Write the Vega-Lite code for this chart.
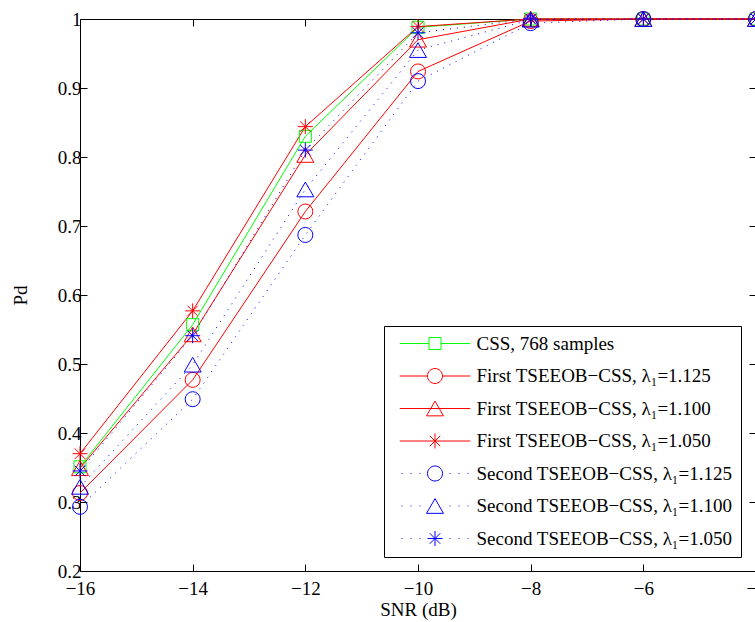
{
  "$schema": "https://vega.github.io/schema/vega-lite/v6.json",
  "width": 676,
  "height": 552,
  "autosize": "none",
  "padding": {"left": 80, "top": 19, "right": -1, "bottom": 51},
  "background": "white",
  "config": {
    "view": {"stroke": null},
    "font": "Liberation Serif",
    "axis": {
      "grid": false,
      "domainColor": "black",
      "domainWidth": 1,
      "tickColor": "black",
      "tickWidth": 1,
      "tickSize": -7,
      "labelColor": "black",
      "labelFont": "Liberation Serif",
      "labelFontSize": 19,
      "titleFont": "Liberation Serif",
      "titleFontSize": 19,
      "titleFontWeight": "normal",
      "titleColor": "black"
    }
  },
  "datasets": {
    "pd": [
      {"series": "CSS, 768 samples", "snr": -16, "pd": 0.351},
      {"series": "CSS, 768 samples", "snr": -14, "pd": 0.557},
      {"series": "CSS, 768 samples", "snr": -12, "pd": 0.830},
      {"series": "CSS, 768 samples", "snr": -10, "pd": 0.988},
      {"series": "CSS, 768 samples", "snr": -8, "pd": 1.0},
      {"series": "CSS, 768 samples", "snr": -6, "pd": 1.0},
      {"series": "CSS, 768 samples", "snr": -4, "pd": 1.0},
      {"series": "First TSEEOB−CSS, λ₁=1.125", "snr": -16, "pd": 0.313},
      {"series": "First TSEEOB−CSS, λ₁=1.125", "snr": -14, "pd": 0.477},
      {"series": "First TSEEOB−CSS, λ₁=1.125", "snr": -12, "pd": 0.721},
      {"series": "First TSEEOB−CSS, λ₁=1.125", "snr": -10, "pd": 0.924},
      {"series": "First TSEEOB−CSS, λ₁=1.125", "snr": -8, "pd": 0.997},
      {"series": "First TSEEOB−CSS, λ₁=1.125", "snr": -6, "pd": 1.0},
      {"series": "First TSEEOB−CSS, λ₁=1.125", "snr": -4, "pd": 1.0},
      {"series": "First TSEEOB−CSS, λ₁=1.100", "snr": -16, "pd": 0.349},
      {"series": "First TSEEOB−CSS, λ₁=1.100", "snr": -14, "pd": 0.543},
      {"series": "First TSEEOB−CSS, λ₁=1.100", "snr": -12, "pd": 0.803},
      {"series": "First TSEEOB−CSS, λ₁=1.100", "snr": -10, "pd": 0.970},
      {"series": "First TSEEOB−CSS, λ₁=1.100", "snr": -8, "pd": 1.0},
      {"series": "First TSEEOB−CSS, λ₁=1.100", "snr": -6, "pd": 1.0},
      {"series": "First TSEEOB−CSS, λ₁=1.100", "snr": -4, "pd": 1.0},
      {"series": "First TSEEOB−CSS, λ₁=1.050", "snr": -16, "pd": 0.370},
      {"series": "First TSEEOB−CSS, λ₁=1.050", "snr": -14, "pd": 0.577},
      {"series": "First TSEEOB−CSS, λ₁=1.050", "snr": -12, "pd": 0.844},
      {"series": "First TSEEOB−CSS, λ₁=1.050", "snr": -10, "pd": 0.989},
      {"series": "First TSEEOB−CSS, λ₁=1.050", "snr": -8, "pd": 1.0},
      {"series": "First TSEEOB−CSS, λ₁=1.050", "snr": -6, "pd": 1.0},
      {"series": "First TSEEOB−CSS, λ₁=1.050", "snr": -4, "pd": 1.0},
      {"series": "Second TSEEOB−CSS, λ₁=1.125", "snr": -16, "pd": 0.293},
      {"series": "Second TSEEOB−CSS, λ₁=1.125", "snr": -14, "pd": 0.449},
      {"series": "Second TSEEOB−CSS, λ₁=1.125", "snr": -12, "pd": 0.687},
      {"series": "Second TSEEOB−CSS, λ₁=1.125", "snr": -10, "pd": 0.910},
      {"series": "Second TSEEOB−CSS, λ₁=1.125", "snr": -8, "pd": 0.994},
      {"series": "Second TSEEOB−CSS, λ₁=1.125", "snr": -6, "pd": 1.0},
      {"series": "Second TSEEOB−CSS, λ₁=1.125", "snr": -4, "pd": 1.0},
      {"series": "Second TSEEOB−CSS, λ₁=1.100", "snr": -16, "pd": 0.322},
      {"series": "Second TSEEOB−CSS, λ₁=1.100", "snr": -14, "pd": 0.499},
      {"series": "Second TSEEOB−CSS, λ₁=1.100", "snr": -12, "pd": 0.753},
      {"series": "Second TSEEOB−CSS, λ₁=1.100", "snr": -10, "pd": 0.955},
      {"series": "Second TSEEOB−CSS, λ₁=1.100", "snr": -8, "pd": 0.999},
      {"series": "Second TSEEOB−CSS, λ₁=1.100", "snr": -6, "pd": 1.0},
      {"series": "Second TSEEOB−CSS, λ₁=1.100", "snr": -4, "pd": 1.0},
      {"series": "Second TSEEOB−CSS, λ₁=1.050", "snr": -16, "pd": 0.345},
      {"series": "Second TSEEOB−CSS, λ₁=1.050", "snr": -14, "pd": 0.541},
      {"series": "Second TSEEOB−CSS, λ₁=1.050", "snr": -12, "pd": 0.810},
      {"series": "Second TSEEOB−CSS, λ₁=1.050", "snr": -10, "pd": 0.980},
      {"series": "Second TSEEOB−CSS, λ₁=1.050", "snr": -8, "pd": 1.0},
      {"series": "Second TSEEOB−CSS, λ₁=1.050", "snr": -6, "pd": 1.0},
      {"series": "Second TSEEOB−CSS, λ₁=1.050", "snr": -4, "pd": 1.0}
    ]
  },
  "data": {"name": "pd"},
  "layer": [
    {
      "encoding": {
        "x": {
          "field": "snr", "type": "quantitative",
          "scale": {"domain": [-16, -4], "nice": false, "zero": false},
          "axis": {"orient": "bottom", "title": "SNR (dB)", "values": [-16, -14, -12, -10, -8, -6, -4], "labelPadding": 15, "titlePadding": 2, "labelFlush": false}
        },
        "y": {
          "field": "pd", "type": "quantitative",
          "scale": {"domain": [0.2, 1], "nice": false, "zero": false},
          "axis": {"orient": "left", "title": "Pd", "values": [0.2, 0.3, 0.4, 0.5, 0.6, 0.7, 0.8, 0.9, 1.0], "labelExpr": "datum.value == 1 ? '1' : format(datum.value, '.1f')", "labelPadding": 6, "titlePadding": 27, "labelFlush": false}
        }
      },
      "layer": [
        {
          "transform": [{"filter": {"field": "series", "oneOf": ["CSS, 768 samples"]}}],
          "mark": {"type": "line", "strokeWidth": 1, "color": "#00ff00"},
          "encoding": {"detail": {"field": "series", "type": "nominal"}}
        },
        {
          "transform": [{"filter": {"field": "series", "oneOf": ["First TSEEOB−CSS, λ₁=1.125", "First TSEEOB−CSS, λ₁=1.100", "First TSEEOB−CSS, λ₁=1.050"]}}],
          "mark": {"type": "line", "strokeWidth": 1, "color": "#ff0000"},
          "encoding": {"detail": {"field": "series", "type": "nominal"}}
        },
        {
          "transform": [{"filter": {"field": "series", "oneOf": ["Second TSEEOB−CSS, λ₁=1.125", "Second TSEEOB−CSS, λ₁=1.100", "Second TSEEOB−CSS, λ₁=1.050"]}}],
          "mark": {"type": "line", "strokeWidth": 1, "color": "#0000ff", "strokeDash": [1, 6]},
          "encoding": {"detail": {"field": "series", "type": "nominal"}}
        },
        {
          "transform": [{"filter": {"field": "series", "oneOf": ["CSS, 768 samples"]}}],
          "mark": {"type": "point", "shape": "square", "size": 144, "filled": false, "strokeWidth": 1, "color": "#00ff00", "opacity": 1}
        },
        {
          "transform": [{"filter": {"field": "series", "oneOf": ["First TSEEOB−CSS, λ₁=1.125"]}}],
          "mark": {"type": "point", "shape": "circle", "size": 225, "filled": false, "strokeWidth": 1, "color": "#ff0000", "opacity": 1}
        },
        {
          "transform": [{"filter": {"field": "series", "oneOf": ["First TSEEOB−CSS, λ₁=1.100"]}}],
          "mark": {"type": "point", "shape": "triangle-up", "size": 289, "filled": false, "strokeWidth": 1, "color": "#ff0000", "opacity": 1}
        },
        {
          "transform": [{"filter": {"field": "series", "oneOf": ["First TSEEOB−CSS, λ₁=1.050"]}}],
          "mark": {"type": "point", "shape": "M0,-1L0,1M-1,0L1,0M-0.7,-0.7L0.7,0.7M-0.7,0.7L0.7,-0.7", "size": 225, "filled": false, "strokeWidth": 1, "color": "#ff0000", "opacity": 1}
        },
        {
          "transform": [{"filter": {"field": "series", "oneOf": ["Second TSEEOB−CSS, λ₁=1.125"]}}],
          "mark": {"type": "point", "shape": "circle", "size": 225, "filled": false, "strokeWidth": 1, "color": "#0000ff", "opacity": 1}
        },
        {
          "transform": [{"filter": {"field": "series", "oneOf": ["Second TSEEOB−CSS, λ₁=1.100"]}}],
          "mark": {"type": "point", "shape": "triangle-up", "size": 289, "filled": false, "strokeWidth": 1, "color": "#0000ff", "opacity": 1}
        },
        {
          "transform": [{"filter": {"field": "series", "oneOf": ["Second TSEEOB−CSS, λ₁=1.050"]}}],
          "mark": {"type": "point", "shape": "M0,-1L0,1M-1,0L1,0M-0.7,-0.7L0.7,0.7M-0.7,0.7L0.7,-0.7", "size": 225, "filled": false, "strokeWidth": 1, "color": "#0000ff", "opacity": 1}
        },
        {
          "transform": [{"filter": "datum.snr > 100"}],
          "mark": {"type": "point", "filled": false, "strokeWidth": 1, "size": 225, "opacity": 1},
          "encoding": {
            "color": {
              "field": "series", "type": "nominal",
              "scale": {
                "domain": ["CSS, 768 samples", "First TSEEOB−CSS, λ₁=1.125", "First TSEEOB−CSS, λ₁=1.100", "First TSEEOB−CSS, λ₁=1.050", "Second TSEEOB−CSS, λ₁=1.125", "Second TSEEOB−CSS, λ₁=1.100", "Second TSEEOB−CSS, λ₁=1.050"],
                "range": ["#00ff00", "#ff0000", "#ff0000", "#ff0000", "#0000ff", "#0000ff", "#0000ff"]
              },
              "legend": {
                "title": null,
                "orient": "none",
                "legendX": 304,
                "legendY": 307,
                "direction": "vertical",
                "fillColor": "white",
                "strokeColor": "black",
                "padding": 8,
                "symbolSize": 225,
                "symbolStrokeWidth": 1,
                "symbolOffset": 33.5,
                "labelOffset": 32,
                "rowPadding": 12.5,
                "labelFont": "Liberation Serif",
                "labelFontSize": 19,
                "labelColor": "black",
                "labelLimit": 500,
                "symbolFillColor": "transparent"
              }
            },
            "shape": {
              "field": "series", "type": "nominal",
              "scale": {
                "domain": ["CSS, 768 samples", "First TSEEOB−CSS, λ₁=1.125", "First TSEEOB−CSS, λ₁=1.100", "First TSEEOB−CSS, λ₁=1.050", "Second TSEEOB−CSS, λ₁=1.125", "Second TSEEOB−CSS, λ₁=1.100", "Second TSEEOB−CSS, λ₁=1.050"],
                "range": [
                  "M-4.7,0L-0.8,0M0.8,0L4.7,0M-0.8,-0.8L0.8,-0.8L0.8,0.8L-0.8,0.8Z",
                  "M-4.7,0L-1,0M1,0L4.7,0M1,0A1,1,0,1,1,-1,0A1,1,0,1,1,1,0",
                  "M-4.7,0L4.7,0M0,-0.98L1.13,0.98L-1.13,0.98Z",
                  "M-4.7,0L4.7,0M0,-1L0,1M-0.7,-0.7L0.7,0.7M-0.7,0.7L0.7,-0.7",
                  "M-4.46,0L-4.34,0M-3.26,0L-3.14,0M-2.06,0L-1.94,0M1.94,0L2.06,0M3.14,0L3.26,0M4.34,0L4.46,0M1,0A1,1,0,1,1,-1,0A1,1,0,1,1,1,0",
                  "M-4.46,0L-4.34,0M-3.26,0L-3.14,0M-2.06,0L-1.94,0M1.94,0L2.06,0M3.14,0L3.26,0M4.34,0L4.46,0M0,-0.98L1.13,0.98L-1.13,0.98Z",
                  "M-4.46,0L-4.34,0M-3.26,0L-3.14,0M-2.06,0L-1.94,0M1.94,0L2.06,0M3.14,0L3.26,0M4.34,0L4.46,0M0,-1L0,1M-1,0L1,0M-0.7,-0.7L0.7,0.7M-0.7,0.7L0.7,-0.7"
                ]
              }
            }
          }
        }
      ]
    },
    {
      "mark": {"type": "point", "opacity": 0},
      "encoding": {
        "x": {"field": "snr", "type": "quantitative", "axis": {"orient": "top", "title": null, "labels": false, "values": [-16, -14, -12, -10, -8, -6, -4]}},
        "y": {"field": "pd", "type": "quantitative", "axis": {"orient": "right", "title": null, "labels": false, "values": [0.2, 0.3, 0.4, 0.5, 0.6, 0.7, 0.8, 0.9, 1.0]}}
      }
    }
  ],
  "resolve": {"axis": {"x": "independent", "y": "independent"}}
}
